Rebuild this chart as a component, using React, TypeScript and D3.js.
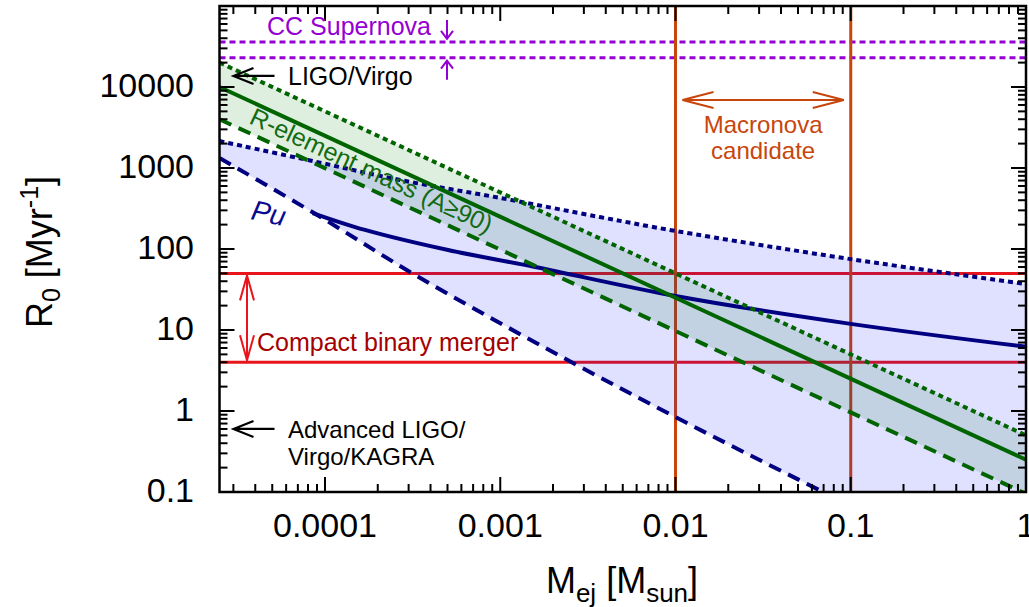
import React, { useEffect, useRef } from 'react';
import * as d3 from 'd3';

// ---- data ----
const xTicks = [0.0001, 0.001, 0.01, 0.1, 1];
const xTickLabels = ['0.0001', '0.001', '0.01', '0.1', '1'];
const yTicks = [0.1, 1, 10, 100, 1000, 10000];
const yTickLabels = ['0.1', '1', '10', '100', '1000', '10000'];

// R-element mass band (straight lines in log-log)
const greenMass = [2.5e-5, 1];
const greenUpperR = [20000, 0.5];
const greenMidR = [10000, 0.25];
const greenLowerR = [4000, 0.095];

// Pu band
const puUpperMass = [2.5e-5, 8.77e-5, 2.68e-4, 1e-3, 3.7e-3, 0.01, 0.1, 1];
const puUpperR = [2150, 1200, 711, 427, 248, 167, 75, 37];
const puLowerMass = [2.5e-5, 8.65e-5, 3.27e-4, 1.69e-3, 0.01, 0.0695, 1];
const puLowerR = [1327, 278, 47.7, 6.5, 0.84, 0.1, 0.0056];
const puMidMass = [8.5e-5, 1.69e-4, 5.04e-4, 1.58e-3, 0.01, 0.1, 1];
const puMidR = [278, 172, 97, 60, 26.3, 11.9, 6.2];

const cbmRates = [50, 4];
const macronovaMass = [0.01, 0.1];
const ccSnRates = [36000, 23000];
const ligoVirgoRate = 13700;
const advLigoRate = 0.6;

const FONT = '"Liberation Sans", Arial, Helvetica, sans-serif';

export default function App() {
  const ref = useRef<SVGSVGElement>(null);

  useEffect(() => {
    const svg = d3.select(ref.current);
    svg.selectAll('*').remove();
    const left = 219.5, right = 1026, top = 6, bottom = 492;
    const x = d3.scaleLog().domain([2.5e-5, 1]).range([left, right]);
    const y = d3.scaleLog().domain([0.1, 1e5]).range([bottom, top]);

    svg.append('rect').attr('width', 1029).attr('height', 607).attr('fill', '#fff');

    const defs = svg.append('defs');
    defs.append('clipPath').attr('id', 'plotclip').append('rect')
      .attr('x', left).attr('y', top).attr('width', right - left).attr('height', bottom - top);

    const g = svg.append('g').attr('clip-path', 'url(#plotclip)');

    const purple = '#9400d3';
    const red = '#e8161c';
    const orange = '#c8460c';
    const green = '#006400';
    const navy = '#000080';

    // reference lines (under fills)
    ccSnRates.forEach(r => {
      g.append('line').attr('x1', left).attr('x2', right).attr('y1', y(r)).attr('y2', y(r))
        .attr('stroke', purple).attr('stroke-width', 3).attr('stroke-dasharray', '6,4');
    });
    cbmRates.forEach(r => {
      g.append('line').attr('x1', left).attr('x2', right).attr('y1', y(r)).attr('y2', y(r))
        .attr('stroke', red).attr('stroke-width', 3);
    });
    macronovaMass.forEach(m => {
      g.append('line').attr('x1', x(m)).attr('x2', x(m)).attr('y1', top).attr('y2', bottom)
        .attr('stroke', orange).attr('stroke-width', 3);
    });

    type P = [number, number];
    const zip = (ms: number[], rs: number[]): P[] => ms.map((m, i) => [m, rs[i]]);
    const lineStraight = d3.line<P>().x(d => x(d[0])).y(d => y(d[1]));
    const lineCurve = d3.line<P>().x(d => x(d[0])).y(d => y(d[1])).curve(d3.curveCatmullRom.alpha(0.5));

    const gUp = zip(greenMass, greenUpperR);
    const gMid = zip(greenMass, greenMidR);
    const gLow = zip(greenMass, greenLowerR);
    const pUp = zip(puUpperMass, puUpperR);
    const pLow = zip(puLowerMass, puLowerR);
    const pMid = zip(puMidMass, puMidR);

    // fills
    const band = (gen: d3.Line<P>, up: P[], low: P[]) => {
      const a = gen(up) as string;
      const b = gen(low.slice().reverse()) as string;
      return a + 'L' + b.slice(1) + 'Z';
    };
    g.append('path').attr('d', band(lineStraight, gUp, gLow)).attr('fill', 'rgb(0,128,0)').attr('fill-opacity', 0.125);
    g.append('path').attr('d', band(lineCurve, pUp, pLow)).attr('fill', 'rgb(0,0,255)').attr('fill-opacity', 0.12);

    // curves
    const drawLine = (gen: d3.Line<P>, pts: P[], color: string, dash: string | null) => {
      const p = g.append('path').attr('d', gen(pts) as string).attr('fill', 'none')
        .attr('stroke', color).attr('stroke-width', 4);
      if (dash) p.attr('stroke-dasharray', dash);
    };
    drawLine(lineCurve, pUp, navy, '5,4');
    drawLine(lineCurve, pLow, navy, '13,8');
    drawLine(lineCurve, pMid, navy, null);
    drawLine(lineStraight, gUp, green, '5,4');
    drawLine(lineStraight, gMid, green, null);
    drawLine(lineStraight, gLow, green, '13,8');

    // frame and ticks
    const axes = svg.append('g');
    axes.append('rect').attr('x', left).attr('y', top).attr('width', right - left).attr('height', bottom - top)
      .attr('fill', 'none').attr('stroke', '#000').attr('stroke-width', 2.5);
    const majL = 15, minL = 8;
    for (let e = -5; e <= 0; e++) {
      for (let k = 1; k <= 9; k++) {
        const v = k * Math.pow(10, e);
        if (v < 2.5e-5 * 0.999 || v > 1.0001) continue;
        const px = x(v);
        if (px <= left + 1 || px >= right - 1) continue;
        const L = k === 1 ? majL : minL;
        axes.append('line').attr('x1', px).attr('x2', px).attr('y1', bottom).attr('y2', bottom - L)
          .attr('stroke', '#000').attr('stroke-width', 2);
        axes.append('line').attr('x1', px).attr('x2', px).attr('y1', top).attr('y2', top + L)
          .attr('stroke', '#000').attr('stroke-width', 2);
      }
    }
    for (let e = -1; e <= 4; e++) {
      for (let k = 1; k <= 9; k++) {
        const v = k * Math.pow(10, e);
        const py = y(v);
        if (py >= bottom - 1 || py <= top + 1) continue;
        const L = k === 1 ? majL : minL;
        axes.append('line').attr('x1', left).attr('x2', left + L).attr('y1', py).attr('y2', py)
          .attr('stroke', '#000').attr('stroke-width', 2);
        axes.append('line').attr('x1', right).attr('x2', right - L).attr('y1', py).attr('y2', py)
          .attr('stroke', '#000').attr('stroke-width', 2);
      }
    }
    xTicks.forEach((v, i) => {
      axes.append('text').attr('x', x(v)).attr('y', 537).attr('text-anchor', 'middle')
        .attr('font-family', FONT).attr('font-size', 34).attr('fill', '#000').text(xTickLabels[i]);
    });
    yTicks.forEach((v, i) => {
      axes.append('text').attr('x', 194).attr('y', y(v) + 10).attr('text-anchor', 'end')
        .attr('font-family', FONT).attr('font-size', 34).attr('fill', '#000').text(yTickLabels[i]);
    });

    // axis titles
    const yl = axes.append('text').attr('transform', 'translate(52,252) rotate(-90)')
      .attr('text-anchor', 'middle').attr('font-family', FONT).attr('font-size', 36).attr('fill', '#000');
    yl.append('tspan').text('R');
    yl.append('tspan').attr('font-size', 25).attr('dy', 8).text('0');
    yl.append('tspan').attr('dy', -8).text(' [Myr');
    yl.append('tspan').attr('font-size', 25).attr('dy', -14).text('-1');
    yl.append('tspan').attr('dy', 14).text(']');

    const xl = axes.append('text').attr('x', 622).attr('y', 593)
      .attr('text-anchor', 'middle').attr('font-family', FONT).attr('font-size', 36).attr('fill', '#000');
    xl.append('tspan').text('M');
    xl.append('tspan').attr('font-size', 26).attr('dy', 9).text('ej');
    xl.append('tspan').attr('dy', -9).text(' [M');
    xl.append('tspan').attr('font-size', 26).attr('dy', 9).text('sun');
    xl.append('tspan').attr('dy', -9).text(']');

    // annotations
    const ann = svg.append('g');
    const txt = (tx: number, ty: number, s: string, color: string, size = 24, anchor = 'start') =>
      ann.append('text').attr('x', tx).attr('y', ty).attr('font-family', FONT).attr('font-size', size)
        .attr('fill', color).attr('text-anchor', anchor).text(s);
    const path = (d: string, color: string, w = 2) =>
      ann.append('path').attr('d', d).attr('fill', 'none').attr('stroke', color).attr('stroke-width', w);

    txt(267, 35, 'CC Supernova', purple, 25);
    const ax = 447;
    path(`M${ax},${y(ccSnRates[0]) - 22}L${ax},${y(ccSnRates[0]) - 3}M${ax - 6},${y(ccSnRates[0]) - 11}L${ax},${y(ccSnRates[0]) - 3}L${ax + 6},${y(ccSnRates[0]) - 11}`, purple, 2);
    path(`M${ax},${y(ccSnRates[1]) + 22}L${ax},${y(ccSnRates[1]) + 3}M${ax - 6},${y(ccSnRates[1]) + 11}L${ax},${y(ccSnRates[1]) + 3}L${ax + 6},${y(ccSnRates[1]) + 11}`, purple, 2);

    const leftArrow = (py: number) =>
      path(`M${left + 55},${py}L${left + 14},${py}M${left + 34},${py - 8}L${left + 14},${py}L${left + 34},${py + 8}`, '#000', 2.2);
    leftArrow(y(ligoVirgoRate));
    txt(288, y(ligoVirgoRate) + 9, 'LIGO/Virgo', '#000', 25);
    leftArrow(y(advLigoRate));
    txt(288, y(advLigoRate) + 9, 'Advanced LIGO/', '#000', 24);
    txt(288, y(advLigoRate) + 36, 'Virgo/KAGRA', '#000', 24);

    const my = 100;
    const x1 = x(macronovaMass[0]) + 7, x2 = x(macronovaMass[1]) - 7;
    path(`M${x1},${my}L${x2},${my}M${x1 + 31},${my - 8}L${x1},${my}L${x1 + 31},${my + 8}M${x2 - 31},${my - 8}L${x2},${my}L${x2 - 31},${my + 8}`, orange, 2.2);
    const mcx = (x(macronovaMass[0]) + x(macronovaMass[1])) / 2;
    txt(mcx, 133, 'Macronova', orange, 24, 'middle');
    txt(mcx, 159, 'candidate', orange, 24, 'middle');

    const cx = 247;
    const y1 = y(cbmRates[0]) + 2, y2 = y(cbmRates[1]) - 2;
    path(`M${cx},${y1}L${cx},${y2}M${cx - 7},${y1 + 25}L${cx},${y1}L${cx + 7},${y1 + 25}M${cx - 7},${y2 - 25}L${cx},${y2}L${cx + 7},${y2 - 25}`, red, 2);
    txt(257, 351, 'Compact binary merger', '#a50000', 25);

    const ang = Math.atan2(y(greenMidR[1]) - y(greenMidR[0]), x(greenMass[1]) - x(greenMass[0])) * 180 / Math.PI;
    ann.append('text').attr('transform', `translate(248,123) rotate(${ang})`)
      .attr('font-family', FONT).attr('font-size', 25).attr('fill', '#136b13').text('R-element mass (A\u226590)');

    ann.append('text').attr('transform', `translate(250,219) rotate(12)`)
      .attr('font-family', FONT).attr('font-size', 28).attr('font-style', 'italic').attr('fill', '#0a0a90').text('Pu');
  }, []);

  return (
    <svg ref={ref} width={1029} height={607}
      style={{ position: 'absolute', left: 0, top: 0, display: 'block' }} />
  );
}
